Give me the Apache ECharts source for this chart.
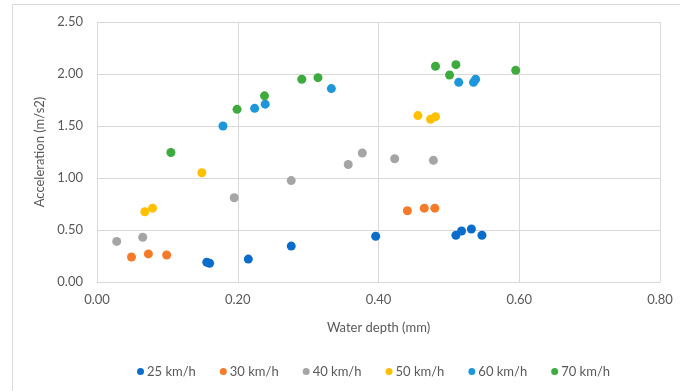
<!DOCTYPE html>
<html>
<head>
<meta charset="utf-8">
<script src="https://cdn.jsdelivr.net/npm/echarts@6/dist/echarts.min.js"></script>
<style>html,body{margin:0;padding:0;background:#fff;}#c{width:680px;height:391px;}</style>
</head>
<body>
<div id="c"></div>
<script>
var seriesNames = ['25 km/h', '30 km/h', '40 km/h', '50 km/h', '60 km/h', '70 km/h'];
var s25x = [0.156, 0.160, 0.215, 0.276, 0.396, 0.510, 0.518, 0.532, 0.547];
var s25y = [0.19, 0.18, 0.22, 0.345, 0.44, 0.45, 0.49, 0.51, 0.45];
var s30x = [0.049, 0.073, 0.099, 0.441, 0.465, 0.480];
var s30y = [0.24, 0.27, 0.26, 0.685, 0.71, 0.71];
var s40x = [0.028, 0.065, 0.195, 0.276, 0.357, 0.377, 0.423, 0.478];
var s40y = [0.39, 0.43, 0.81, 0.975, 1.13, 1.24, 1.185, 1.17];
var s50x = [0.068, 0.079, 0.149, 0.456, 0.474, 0.481];
var s50y = [0.675, 0.71, 1.05, 1.60, 1.565, 1.59];
var s60x = [0.179, 0.224, 0.239, 0.333, 0.514, 0.535, 0.538];
var s60y = [1.50, 1.67, 1.71, 1.86, 1.92, 1.92, 1.95];
var s70x = [0.105, 0.199, 0.238, 0.291, 0.314, 0.481, 0.501, 0.510, 0.595];
var s70y = [1.245, 1.66, 1.79, 1.95, 1.965, 2.075, 1.99, 2.09, 2.035];
var xs = [s25x, s30x, s40x, s50x, s60x, s70x];
var ys = [s25y, s30y, s40y, s50y, s60y, s70y];
var colors = ['#0B6DCB', '#F57B2B', '#A5A5A5', '#FFC000', '#1C97DA', '#3DAB3D'];

function pairs(a, b) { return a.map(function (v, i) { return [v, b[i]]; }); }

var FONT = 'Lato';
var TXT = '#595959';
var GRID = '#d9d9d9';

var chart = echarts.init(document.getElementById('c'), null, { renderer: 'canvas' });
chart.setOption({
  animation: false,
  color: colors,
  textStyle: { fontFamily: FONT },
  graphic: [{
    type: 'rect', shape: { x: 12.5, y: 4.5, width: 700, height: 400 },
    style: { fill: 'none', stroke: GRID, lineWidth: 1 }, silent: true, z: -1
  }],
  grid: { left: 97, right: 20, top: 22, bottom: 109 },
  xAxis: {
    type: 'value', min: 0, max: 0.8, interval: 0.2,
    name: 'Water depth (mm)', nameLocation: 'middle', nameGap: 39,
    nameTextStyle: { color: TXT, fontSize: 13, fontFamily: FONT },
    axisLine: { show: true, lineStyle: { color: GRID } },
    axisTick: { show: false },
    axisLabel: { color: TXT, fontSize: 13, fontFamily: FONT, margin: 11, formatter: function (v) { return v.toFixed(2); } },
    splitLine: { show: true, lineStyle: { color: GRID } }
  },
  yAxis: {
    type: 'value', min: 0, max: 2.5, interval: 0.5,
    name: 'Acceleration (m/s2)', nameLocation: 'middle', nameGap: 44,
    nameTextStyle: { color: TXT, fontSize: 13, fontFamily: FONT },
    axisLine: { show: true, lineStyle: { color: GRID } },
    axisTick: { show: false },
    axisLabel: { color: TXT, fontSize: 13, fontFamily: FONT, margin: 14, formatter: function (v) { return v.toFixed(2); } },
    splitLine: { show: true, lineStyle: { color: GRID } }
  },
  legend: {
    data: seriesNames, bottom: 8, left: 132,
    icon: 'circle', itemWidth: 7, itemHeight: 7, itemGap: 24,
    textStyle: { color: TXT, fontSize: 13, fontFamily: FONT, padding: [0, 0, 0, -2] }
  },
  series: seriesNames.map(function (n, i) {
    return {
      name: n, type: 'scatter', symbol: 'circle', symbolSize: 9,
      itemStyle: { color: colors[i], opacity: 1 },
      data: pairs(xs[i], ys[i])
    };
  })
});
</script>
</body>
</html>
